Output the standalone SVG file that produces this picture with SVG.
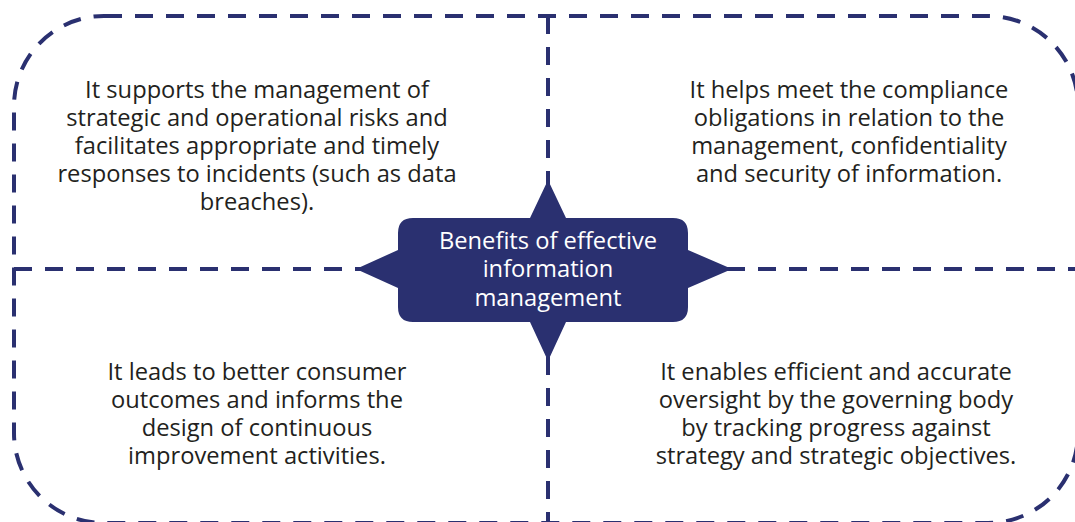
<svg xmlns="http://www.w3.org/2000/svg" width="1075" height="522" viewBox="0 0 1075 522">
  <style>
    .dash { fill: none; stroke: #2a3070; stroke-width: 4; stroke-dasharray: 18 13; }
    .body { font-family: "Open Sans", "Liberation Sans", sans-serif; font-size: 23.7px; fill: #231f20; text-anchor: middle; }
    .hub-text { font-family: "Open Sans", "Liberation Sans", sans-serif; font-size: 23.7px; fill: #ffffff; text-anchor: middle; }
  </style>
  <rect width="1075" height="522" fill="#ffffff"/>

  <!-- dashed frame and quadrant dividers -->
  <g id="connectors">
    <rect class="dash" x="14" y="16" width="1064" height="507" rx="90" ry="90"/>
    <line class="dash" x1="548" y1="16" x2="548" y2="522"/>
    <line class="dash" x1="14" y1="269" x2="1078" y2="269"/>
  </g>

  <!-- central four-pointed hub -->
  <g id="hub">
    <path fill="#2a3070" d="M413,218 L530,218 L548,180 L566,218 L673,218 Q688,218 688,233 L688,250 L732,269 L688,288 L688,307 Q688,322 673,322 L566,322 L548,361 L530,322 L413,322 Q398,322 398,307 L398,288 L356,269 L398,250 L398,233 Q398,218 413,218 Z"/>
    <text class="hub-text"><tspan x="548" y="249">Benefits of effective</tspan><tspan x="548" y="277">information</tspan><tspan x="548" y="306">management</tspan></text>
  </g>

  <g id="risks">
    <text class="body"><tspan x="257" y="98">It supports the management of</tspan><tspan x="257" y="126">strategic and operational risks and</tspan><tspan x="257" y="154">facilitates appropriate and timely</tspan><tspan x="257" y="182">responses to incidents (such as data</tspan><tspan x="257" y="210">breaches).</tspan></text>
  </g>

  <g id="compliance">
    <text class="body"><tspan x="849" y="98">It helps meet the compliance</tspan><tspan x="849" y="126">obligations in relation to the</tspan><tspan x="849" y="154">management, confidentiality</tspan><tspan x="849" y="182">and security of information.</tspan></text>
  </g>

  <g id="outcomes">
    <text class="body"><tspan x="257" y="380">It leads to better consumer</tspan><tspan x="257" y="408">outcomes and informs the</tspan><tspan x="257" y="436">design of continuous</tspan><tspan x="257" y="464">improvement activities.</tspan></text>
  </g>

  <g id="oversight">
    <text class="body"><tspan x="836" y="380">It enables efficient and accurate</tspan><tspan x="836" y="408">oversight by the governing body</tspan><tspan x="836" y="436">by tracking progress against</tspan><tspan x="836" y="464">strategy and strategic objectives.</tspan></text>
  </g>
</svg>
